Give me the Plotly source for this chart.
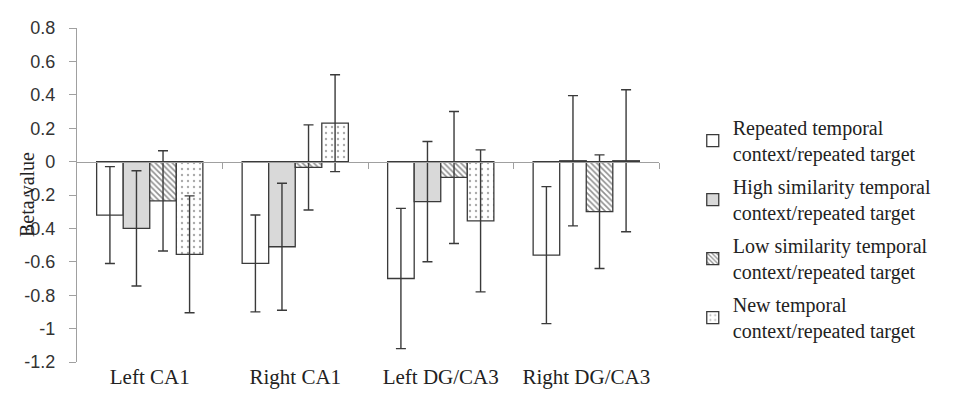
import plotly.graph_objects as go

categories = ["Left CA1", "Right CA1", "Left DG/CA3", "Right DG/CA3"]
series_names = [
    "Repeated temporal<br>context/repeated target",
    "High similarity temporal<br>context/repeated target",
    "Low similarity temporal<br>context/repeated target",
    "New temporal<br>context/repeated target",
]
repeated = [-0.32, -0.61, -0.70, -0.56]
repeated_err = [0.29, 0.29, 0.42, 0.41]
high_sim = [-0.40, -0.51, -0.24, 0.005]
high_sim_err = [0.345, 0.38, 0.36, 0.39]
low_sim = [-0.235, -0.035, -0.095, -0.30]
low_sim_err = [0.30, 0.255, 0.395, 0.34]
new_ctx = [-0.555, 0.23, -0.355, 0.005]
new_ctx_err = [0.35, 0.29, 0.425, 0.425]

y_tickvals = [0.8, 0.6, 0.4, 0.2, 0, -0.2, -0.4, -0.6, -0.8, -1, -1.2]
y_ticktext = ["0.8", "0.6", "0.4", "0.2", "0", "-0.2", "-0.4", "-0.6", "-0.8", "-1", "-1.2"]

serif = "Liberation Serif, Times New Roman, serif"
edge = "#3a3a3a"
values = [repeated, high_sim, low_sim, new_ctx]
errors = [repeated_err, high_sim_err, low_sim_err, new_ctx_err]
markers = [
    dict(color="white"),
    dict(color="#d9d9d9"),
    dict(color="white", pattern=dict(shape="\\", fgcolor="#222222", bgcolor="white", size=4, solidity=0.4)),
    dict(color="white", pattern=dict(shape=".", fgcolor="#555555", bgcolor="white", size=6, solidity=0.12)),
]

fig = go.Figure()
for i in range(4):
    m = dict(markers[i])
    m["line"] = dict(color=edge, width=1.3)
    fig.add_trace(go.Bar(
        x=categories, y=values[i], name=series_names[i], marker=m,
        legendgroup="g%d" % i,
        error_y=dict(type="data", array=errors[i], visible=True, color=edge, thickness=1.4, width=5),
    ))

# helper axis carrying the zero line with category separator ticks
fig.add_trace(go.Scatter(x=[-0.5, 3.5], y=[0, 0], xaxis="x2", mode="lines",
                         line=dict(width=0), showlegend=False, hoverinfo="skip"))

fig.update_layout(
    width=952, height=400,
    margin=dict(l=69, r=301, t=10, b=46),
    font=dict(family=serif),
    paper_bgcolor="white", plot_bgcolor="white",
    barmode="group", bargap=0.27, bargroupgap=0,
    showlegend=True,
    legend=dict(x=1.058, xanchor="left", y=0.398, yanchor="middle",
                font=dict(family=serif, size=20, color="#222222"),
                tracegroupgap=4, itemwidth=30, bgcolor="rgba(0,0,0,0)"),
    xaxis=dict(type="category", showline=False, ticks="", showgrid=False, zeroline=False,
               tickfont=dict(family=serif, size=21, color="#222222")),
    xaxis2=dict(overlaying="x", anchor="free", position=0.6, side="bottom",
                range=[-0.5, 3.5], showline=True, linecolor="#a0a0a0", linewidth=1.3,
                ticks="outside", ticklen=6, tickcolor="#a0a0a0", tickwidth=1.3,
                tickvals=[0.5, 1.5, 2.5, 3.5], showticklabels=False, showgrid=False, zeroline=False),
    yaxis=dict(range=[-1.2, 0.8], tickvals=y_tickvals, ticktext=y_ticktext,
               showline=True, linecolor="#a0a0a0", linewidth=1.3,
               ticks="outside", ticklen=7, tickcolor="#a0a0a0", tickwidth=1.3,
               ticklabelstandoff=10,
               showgrid=False, zeroline=False,
               tickfont=dict(family="Liberation Sans", size=18, color="#333333")),
    annotations=[dict(text="Beta value", textangle=-90, xref="paper", yref="paper",
                      x=-0.0859, y=0.5, xanchor="center", yanchor="middle", showarrow=False,
                      font=dict(family=serif, size=20, color="#222222"))],
)

fig.write_html("out.html")
